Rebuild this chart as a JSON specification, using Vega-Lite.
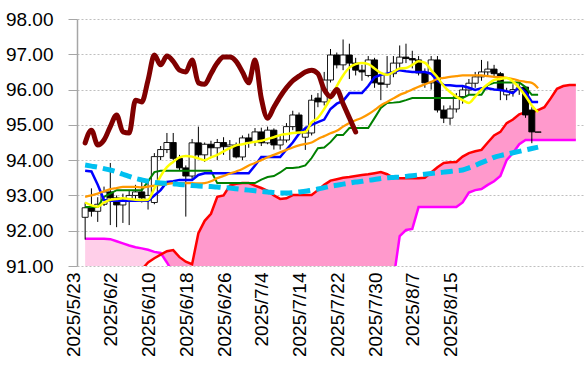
{
"$schema": "https://vega.github.io/schema/vega-lite/v6.json",
"width": 507, "height": 247,
"autosize": {"type": "none"},
"padding": {"left": 77, "top": 19, "right": 4, "bottom": 110},
"background": "white",
"config": {"view": {"stroke": null}, "font": "Liberation Sans",
  "axisY": {"grid": true, "gridColor": "#bfbfbf", "gridDash": [2, 2], "gridWidth": 1, "domain": true, "domainColor": "#a6a6a6", "domainWidth": 1.5, "ticks": true, "tickColor": "#a6a6a6", "tickSize": 9, "tickCount": 12, "labelFont": "Liberation Sans", "labelFontSize": 19, "labelColor": "black", "labelPadding": 15, "labelOverlap": false, "title": null, "format": ".2f"},
  "axisX": {"grid": false, "domain": false, "ticks": false, "tickCount": 20, "labelFont": "Liberation Sans", "labelFontSize": 19, "labelColor": "black", "title": null}
},
"data": {"values": [
{"i":0,"o":92.38,"h":92.80,"l":91.75,"c":92.65,"yel":92.80,"blu":93.70,"grn":92.67,"org":92.96,"cyn":93.86,"chi":94.49,"gry":96.44,"sa":90.6,"sb":91.77},
{"i":1,"o":92.65,"h":93.20,"l":92.40,"c":92.55,"yel":92.72,"blu":93.68,"grn":92.67,"org":93.00,"cyn":93.83,"chi":94.85,"sa":90.6,"sb":91.77},
{"i":2,"o":92.55,"h":92.95,"l":92.25,"c":92.75,"yel":92.68,"blu":93.30,"grn":92.67,"org":93.05,"cyn":93.80,"chi":94.43,"sa":90.6,"sb":91.77},
{"i":3,"o":92.75,"h":93.25,"l":92.70,"c":93.10,"yel":92.80,"blu":92.87,"grn":92.96,"org":93.12,"cyn":93.76,"chi":94.57,"sa":90.6,"sb":91.77},
{"i":4,"o":93.10,"h":93.92,"l":92.16,"c":92.93,"yel":92.88,"blu":92.85,"grn":93.05,"org":93.18,"cyn":93.72,"chi":94.95,"sa":90.6,"sb":91.76},
{"i":5,"o":92.93,"h":93.00,"l":92.10,"c":92.73,"yel":92.90,"blu":92.85,"grn":93.15,"org":93.21,"cyn":93.67,"chi":95.28,"gry":96.36,"sa":90.6,"sb":91.70},
{"i":6,"o":92.73,"h":93.05,"l":92.22,"c":92.87,"yel":92.92,"blu":92.85,"grn":93.15,"org":93.24,"cyn":93.60,"chi":94.80,"sa":90.6,"sb":91.64},
{"i":7,"o":92.87,"h":93.15,"l":92.16,"c":93.00,"yel":92.90,"blu":92.85,"grn":93.15,"org":93.24,"cyn":93.54,"chi":94.77,"sa":90.6,"sb":91.58},
{"i":8,"o":93.00,"h":93.30,"l":92.85,"c":93.10,"yel":92.88,"blu":92.85,"grn":93.15,"org":93.24,"cyn":93.48,"chi":95.70,"sa":90.6,"sb":91.53},
{"i":9,"o":93.10,"h":93.40,"l":92.80,"c":92.93,"yel":92.87,"blu":92.85,"grn":93.15,"org":93.23,"cyn":93.44,"chi":95.65,"sa":90.9,"sb":91.50},
{"i":10,"o":92.87,"h":93.40,"l":92.60,"c":93.00,"yel":92.88,"blu":92.85,"grn":93.40,"org":93.25,"cyn":93.40,"chi":96.27,"gry":96.25,"sa":91.10,"sb":91.46},
{"i":11,"o":92.80,"h":94.20,"l":92.75,"c":94.10,"yel":93.20,"blu":93.00,"grn":93.66,"org":93.28,"cyn":93.37,"chi":96.98,"sa":91.22,"sb":91.40},
{"i":12,"o":94.10,"h":94.40,"l":94.00,"c":94.30,"yel":93.55,"blu":93.15,"grn":93.70,"org":93.30,"cyn":93.35,"chi":96.70,"sa":91.32,"sb":91.37},
{"i":13,"o":94.30,"h":94.77,"l":94.20,"c":94.50,"yel":93.80,"blu":93.38,"grn":93.70,"org":93.32,"cyn":93.34,"chi":96.95,"sa":91.42,"sb":91.10},
{"i":14,"o":94.50,"h":94.77,"l":94.00,"c":94.05,"yel":93.95,"blu":93.40,"grn":93.70,"org":93.35,"cyn":93.33,"chi":96.80,"sa":91.45,"sb":90.80},
{"i":15,"o":94.05,"h":94.15,"l":93.70,"c":93.78,"yel":94.08,"blu":93.44,"grn":93.70,"org":93.35,"cyn":93.31,"chi":96.55,"gry":96.17,"sa":91.25,"sb":90.6},
{"i":16,"o":93.78,"h":93.85,"l":92.40,"c":93.55,"yel":94.12,"blu":93.44,"grn":93.70,"org":93.35,"cyn":93.30,"chi":96.50,"sa":91.12,"sb":90.6},
{"i":17,"o":93.55,"h":94.60,"l":93.45,"c":94.49,"yel":94.10,"blu":93.44,"grn":93.70,"org":93.35,"cyn":93.28,"chi":96.84,"sa":91.05,"sb":90.6},
{"i":18,"o":94.49,"h":94.95,"l":94.05,"c":94.15,"yel":94.05,"blu":93.58,"grn":93.70,"org":93.34,"cyn":93.27,"chi":96.19,"sa":91.93,"sb":90.6},
{"i":19,"o":94.15,"h":94.50,"l":93.95,"c":94.45,"yel":94.00,"blu":93.63,"grn":93.70,"org":93.35,"cyn":93.26,"chi":96.15,"sa":92.28,"sb":90.6},
{"i":20,"o":94.45,"h":94.55,"l":94.10,"c":94.35,"yel":94.08,"blu":93.63,"grn":93.70,"org":93.40,"cyn":93.25,"chi":96.45,"gry":96.11,"sa":92.48,"sb":90.6},
{"i":21,"o":94.35,"h":94.60,"l":94.00,"c":94.50,"yel":94.15,"blu":93.63,"grn":93.35,"org":93.49,"cyn":93.24,"chi":96.75,"sa":92.96,"sb":90.6},
{"i":22,"o":94.50,"h":94.65,"l":94.15,"c":94.38,"yel":94.25,"blu":93.63,"grn":93.35,"org":93.55,"cyn":93.22,"chi":96.92,"sa":93.00,"sb":90.6},
{"i":23,"o":94.38,"h":94.57,"l":94.00,"c":94.43,"yel":94.34,"blu":93.63,"grn":93.35,"org":93.62,"cyn":93.21,"chi":96.92,"sa":93.28,"sb":90.6},
{"i":24,"o":94.43,"h":94.50,"l":94.05,"c":94.09,"yel":94.42,"blu":93.63,"grn":93.35,"org":93.68,"cyn":93.19,"chi":96.80,"sa":93.33,"sb":90.6},
{"i":25,"o":94.09,"h":94.70,"l":94.00,"c":94.63,"yel":94.45,"blu":93.63,"grn":93.35,"org":93.75,"cyn":93.17,"chi":96.50,"gry":96.07,"sa":93.35,"sb":90.6},
{"i":26,"o":94.63,"h":94.75,"l":94.35,"c":94.52,"yel":94.49,"blu":93.63,"grn":93.35,"org":93.85,"cyn":93.15,"chi":96.19,"sa":93.35,"sb":90.6},
{"i":27,"o":94.52,"h":94.91,"l":94.40,"c":94.80,"yel":94.52,"blu":93.85,"grn":93.35,"org":93.92,"cyn":93.13,"chi":96.84,"sa":93.28,"sb":90.6},
{"i":28,"o":94.80,"h":94.92,"l":94.40,"c":94.49,"yel":94.55,"blu":94.09,"grn":93.45,"org":94.00,"cyn":93.11,"chi":95.75,"sa":93.21,"sb":90.6},
{"i":29,"o":94.49,"h":94.95,"l":94.45,"c":94.85,"yel":94.60,"blu":94.09,"grn":93.52,"org":94.08,"cyn":93.10,"chi":95.19,"sa":93.13,"sb":90.6},
{"i":30,"o":94.85,"h":94.90,"l":94.30,"c":94.43,"yel":94.65,"blu":94.09,"grn":93.55,"org":94.15,"cyn":93.08,"chi":95.50,"gry":96.03,"sa":93.00,"sb":90.6},
{"i":31,"o":94.43,"h":94.70,"l":94.30,"c":94.57,"yel":94.71,"blu":94.09,"grn":93.65,"org":94.22,"cyn":93.07,"chi":95.80,"sa":92.90,"sb":90.6},
{"i":32,"o":94.57,"h":95.05,"l":94.50,"c":94.95,"yel":94.74,"blu":94.30,"grn":93.78,"org":94.29,"cyn":93.07,"chi":96.05,"sa":92.92,"sb":90.6},
{"i":33,"o":94.95,"h":95.40,"l":94.85,"c":95.28,"yel":94.77,"blu":94.50,"grn":93.78,"org":94.36,"cyn":93.08,"chi":96.25,"sa":93.01,"sb":90.6},
{"i":34,"o":95.28,"h":95.35,"l":94.75,"c":94.80,"yel":94.78,"blu":94.75,"grn":93.80,"org":94.42,"cyn":93.10,"chi":96.38,"sa":93.01,"sb":90.6},
{"i":35,"o":94.65,"h":94.95,"l":94.29,"c":94.77,"yel":94.80,"blu":94.90,"grn":93.85,"org":94.46,"cyn":93.12,"chi":96.50,"gry":95.95,"sa":93.01,"sb":90.6},
{"i":36,"o":94.77,"h":95.85,"l":94.70,"c":95.70,"yel":95.07,"blu":95.00,"grn":94.06,"org":94.50,"cyn":93.15,"chi":96.55,"sa":93.01,"sb":90.6},
{"i":37,"o":95.76,"h":95.90,"l":95.50,"c":95.65,"yel":95.20,"blu":95.08,"grn":94.34,"org":94.60,"cyn":93.18,"chi":96.45,"sa":93.15,"sb":90.6},
{"i":38,"o":95.65,"h":96.50,"l":95.55,"c":96.27,"yel":95.45,"blu":95.15,"grn":94.36,"org":94.68,"cyn":93.22,"chi":96.00,"sa":93.30,"sb":90.6},
{"i":39,"o":96.27,"h":97.15,"l":96.20,"c":96.98,"yel":95.75,"blu":95.45,"grn":94.51,"org":94.76,"cyn":93.26,"chi":95.80,"sa":93.42,"sb":90.6},
{"i":40,"o":96.98,"h":97.05,"l":96.60,"c":96.70,"yel":96.10,"blu":95.60,"grn":94.71,"org":94.83,"cyn":93.29,"chi":96.00,"gry":95.86,"sa":93.46,"sb":90.6},
{"i":41,"o":96.70,"h":97.42,"l":96.55,"c":96.98,"yel":96.40,"blu":95.68,"grn":94.71,"org":94.95,"cyn":93.32,"chi":95.60,"sa":93.50,"sb":90.6},
{"i":42,"o":96.98,"h":97.30,"l":96.30,"c":96.75,"yel":96.62,"blu":95.90,"grn":94.91,"org":95.05,"cyn":93.35,"chi":95.20,"sa":93.52,"sb":90.6},
{"i":43,"o":96.75,"h":96.90,"l":96.40,"c":96.55,"yel":96.72,"blu":95.90,"grn":94.91,"org":95.13,"cyn":93.38,"chi":94.80,"sa":93.55,"sb":90.6},
{"i":44,"o":96.55,"h":96.70,"l":96.25,"c":96.50,"yel":96.75,"blu":95.90,"grn":94.91,"org":95.20,"cyn":93.40,"sa":93.58,"sb":90.6},
{"i":45,"o":96.40,"h":96.95,"l":96.35,"c":96.84,"yel":96.72,"blu":96.10,"grn":94.91,"org":95.30,"cyn":93.43,"gry":95.78,"sa":93.60,"sb":90.6},
{"i":46,"o":96.84,"h":96.90,"l":96.05,"c":96.19,"yel":96.60,"blu":96.35,"grn":95.19,"org":95.42,"cyn":93.45,"sa":93.63,"sb":90.6},
{"i":47,"o":96.19,"h":96.45,"l":95.70,"c":96.15,"yel":96.47,"blu":96.42,"grn":95.48,"org":95.55,"cyn":93.48,"sa":93.66,"sb":90.6},
{"i":48,"o":96.15,"h":96.95,"l":96.05,"c":96.45,"yel":96.42,"blu":96.45,"grn":95.62,"org":95.65,"cyn":93.50,"sa":93.60,"sb":90.6},
{"i":49,"o":96.45,"h":96.95,"l":96.35,"c":96.75,"yel":96.50,"blu":96.50,"grn":95.63,"org":95.75,"cyn":93.51,"sa":93.50,"sb":90.6},
{"i":50,"o":96.75,"h":97.25,"l":96.60,"c":96.92,"yel":96.60,"blu":96.55,"grn":95.65,"org":95.85,"cyn":93.52,"gry":95.70,"sa":93.49,"sb":91.85},
{"i":51,"o":96.92,"h":97.30,"l":96.75,"c":96.88,"yel":96.61,"blu":96.52,"grn":95.70,"org":95.92,"cyn":93.54,"sa":93.49,"sb":92.02},
{"i":52,"o":96.88,"h":97.10,"l":96.60,"c":96.84,"yel":96.70,"blu":96.50,"grn":95.76,"org":96.00,"cyn":93.56,"sa":93.49,"sb":92.05},
{"i":53,"o":96.84,"h":96.95,"l":96.40,"c":96.47,"yel":96.80,"blu":96.50,"grn":95.76,"org":96.08,"cyn":93.58,"sa":93.49,"sb":92.67},
{"i":54,"o":96.47,"h":96.60,"l":96.05,"c":96.19,"yel":96.76,"blu":96.50,"grn":95.76,"org":96.15,"cyn":93.60,"sa":93.50,"sb":92.67},
{"i":55,"o":96.19,"h":96.95,"l":96.00,"c":96.84,"yel":96.55,"blu":96.45,"grn":95.76,"org":96.22,"cyn":93.62,"gry":95.58,"sa":93.65,"sb":92.67},
{"i":56,"o":96.84,"h":96.95,"l":95.35,"c":95.42,"yel":96.35,"blu":96.25,"grn":95.76,"org":96.30,"cyn":93.64,"sa":93.80,"sb":92.67},
{"i":57,"o":95.42,"h":95.55,"l":95.05,"c":95.19,"yel":96.10,"blu":96.13,"grn":95.76,"org":96.33,"cyn":93.66,"sa":93.92,"sb":92.67},
{"i":58,"o":95.19,"h":95.55,"l":95.00,"c":95.45,"yel":95.93,"blu":96.12,"grn":95.76,"org":96.36,"cyn":93.68,"sa":93.94,"sb":92.67},
{"i":59,"o":95.45,"h":95.90,"l":95.35,"c":95.80,"yel":95.80,"blu":96.10,"grn":95.76,"org":96.38,"cyn":93.70,"sa":93.95,"sb":92.67},
{"i":60,"o":95.80,"h":96.10,"l":95.60,"c":95.99,"yel":95.70,"blu":96.10,"grn":95.76,"org":96.40,"cyn":93.72,"gry":95.50,"sa":94.10,"sb":92.80},
{"i":61,"o":95.99,"h":96.30,"l":95.85,"c":96.18,"yel":95.62,"blu":96.05,"grn":95.85,"org":96.40,"cyn":93.78,"sa":94.20,"sb":93.08},
{"i":62,"o":96.18,"h":96.50,"l":96.05,"c":96.36,"yel":95.80,"blu":95.99,"grn":95.85,"org":96.40,"cyn":93.85,"sa":94.25,"sb":93.15},
{"i":63,"o":96.36,"h":96.84,"l":96.25,"c":96.50,"yel":96.00,"blu":96.04,"grn":95.85,"org":96.40,"cyn":93.93,"sa":94.29,"sb":93.18},
{"i":64,"o":96.50,"h":96.80,"l":96.40,"c":96.58,"yel":96.15,"blu":96.04,"grn":96.13,"org":96.38,"cyn":94.00,"sa":94.50,"sb":93.30},
{"i":65,"o":96.58,"h":96.70,"l":96.35,"c":96.45,"yel":96.27,"blu":96.00,"grn":96.19,"org":96.36,"cyn":94.08,"gry":95.38,"sa":94.70,"sb":93.40},
{"i":66,"o":96.45,"h":96.50,"l":95.70,"c":95.99,"yel":96.30,"blu":95.99,"grn":96.20,"org":96.35,"cyn":94.13,"sa":94.80,"sb":93.55},
{"i":67,"o":95.85,"h":96.05,"l":95.70,"c":95.95,"yel":96.33,"blu":95.95,"grn":96.20,"org":96.33,"cyn":94.17,"sa":95.05,"sb":94.00},
{"i":68,"o":95.95,"h":96.15,"l":95.80,"c":96.00,"yel":96.23,"blu":95.90,"grn":96.20,"org":96.30,"cyn":94.21,"sa":95.15,"sb":94.20},
{"i":69,"o":96.00,"h":96.20,"l":95.85,"c":96.05,"yel":96.05,"blu":96.07,"grn":96.20,"org":96.25,"cyn":94.25,"sa":95.30,"sb":94.45},
{"i":70,"o":96.07,"h":96.10,"l":95.20,"c":95.28,"yel":95.82,"blu":95.93,"grn":96.07,"org":96.22,"cyn":94.29,"gry":95.28,"sa":95.36,"sb":94.57},
{"i":71,"o":95.42,"h":95.50,"l":94.48,"c":94.80,"yel":95.55,"blu":95.65,"grn":95.85,"org":96.19,"cyn":94.33,"sa":95.36,"sb":94.57},
{"i":72,"o":94.79,"h":94.80,"l":94.79,"c":94.80,"yel":95.36,"blu":95.65,"grn":95.85,"org":96.04,"cyn":94.37,"gry":95.22,"sa":95.42,"sb":94.57},
{"i":73,"sa":95.50,"sb":94.57},
{"i":74,"sa":95.75,"sb":94.57},
{"i":75,"sa":96.02,"sb":94.57},
{"i":76,"sa":96.10,"sb":94.57},
{"i":77,"sa":96.13,"sb":94.57},
{"i":78,"sa":96.13,"sb":94.57}
]},
"encoding": {
  "x": {"field": "i", "type": "quantitative", "scale": {"domain": [-0.5, 78.5], "nice": false, "zero": false},
    "axis": {"values": [0, 6, 12, 18, 24, 30, 36, 42, 48, 54, 60], "tickCount": 20,
      "labelExpr": "['2025/5/23','2025/6/2','2025/6/10','2025/6/18','2025/6/26','2025/7/4','2025/7/14','2025/7/22','2025/7/30','2025/8/7','2025/8/15'][round(datum.value/6)]",
      "labelAngle": 270, "labelAlign": "right", "labelBaseline": "middle", "labelPadding": 6, "labelOffset": -12,
      "labelFlush": false, "labelOverlap": false, "labelBound": false}}
},
"layer": [
  {"transform": [{"filter": "datum.i <= 12"}],
   "mark": {"type": "area", "clip": true, "color": "#ffcfe9"},
   "encoding": {"y": {"field": "sb", "type": "quantitative", "scale": {"domain": [91, 98], "nice": false, "zero": false},
      "axis": {"values": [91, 92, 93, 94, 95, 96, 97, 98], "tickCount": 12, "format": ".2f", "title": null, "labelOverlap": false}},
     "y2": {"field": "sa"}}},
  {"transform": [{"filter": "datum.i >= 12"}],
   "mark": {"type": "area", "clip": true, "color": "#ff99cc"},
   "encoding": {"y": {"field": "sa", "type": "quantitative", "title": null}, "y2": {"field": "sb"}}},
  {"mark": {"type": "line", "clip": true, "color": "#ff00ff", "strokeWidth": 2.5},
   "encoding": {"y": {"field": "sb", "type": "quantitative", "title": null}}},
  {"mark": {"type": "line", "clip": true, "color": "#ff0000", "strokeWidth": 2.5},
   "encoding": {"y": {"field": "sa", "type": "quantitative", "title": null}}},
  {"transform": [{"filter": "isValid(datum.o)"}],
   "mark": {"type": "rule", "color": "black", "strokeWidth": 1},
   "encoding": {"y": {"field": "l", "type": "quantitative", "title": null}, "y2": {"field": "h"}}},
  {"transform": [{"filter": "isValid(datum.o)"}],
   "mark": {"type": "bar", "width": 6, "stroke": "black", "strokeWidth": 0.9},
   "encoding": {"y": {"field": "o", "type": "quantitative", "title": null}, "y2": {"field": "c"},
     "fill": {"condition": {"test": "datum.c >= datum.o", "value": "white"}, "value": "black"}}},
  {"mark": {"type": "line", "clip": true, "color": "#008000", "strokeWidth": 2},
   "encoding": {"y": {"field": "grn", "type": "quantitative", "title": null}}},
  {"mark": {"type": "line", "clip": true, "color": "#0000ff", "strokeWidth": 2.5},
   "encoding": {"y": {"field": "blu", "type": "quantitative", "title": null}}},
  {"mark": {"type": "line", "clip": true, "color": "#ff9900", "strokeWidth": 2.25, "interpolate": "monotone"},
   "encoding": {"y": {"field": "org", "type": "quantitative", "title": null}}},
  {"mark": {"type": "line", "clip": true, "color": "#ffff00", "strokeWidth": 2.5, "interpolate": "monotone"},
   "encoding": {"y": {"field": "yel", "type": "quantitative", "title": null}}},
  {"mark": {"type": "line", "clip": true, "color": "#00c0f0", "strokeWidth": 5, "strokeDash": [12, 6], "interpolate": "monotone"},
   "encoding": {"y": {"field": "cyn", "type": "quantitative", "title": null}}},
  {"mark": {"type": "line", "clip": true, "color": "#808080", "strokeWidth": 5, "strokeDash": [33, 15, 4, 13]},
   "encoding": {"y": {"field": "gry", "type": "quantitative", "title": null}}},
  {"mark": {"type": "line", "clip": true, "color": "#800000", "strokeWidth": 5, "interpolate": "monotone", "strokeJoin": "round", "strokeCap": "round"},
   "encoding": {"y": {"field": "chi", "type": "quantitative", "title": null}}}
]
}
